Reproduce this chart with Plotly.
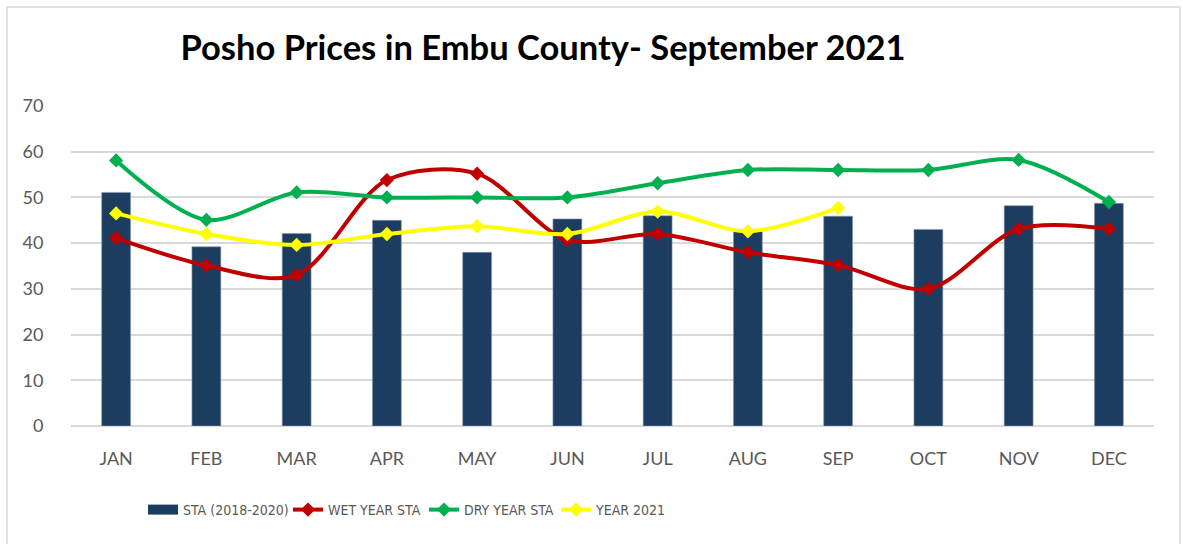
import plotly.graph_objects as go

months = ["JAN", "FEB", "MAR", "APR", "MAY", "JUN", "JUL", "AUG", "SEP", "OCT", "NOV", "DEC"]
sta = [51.1, 39.2, 42.1, 45.0, 38.0, 45.3, 46.0, 43.0, 45.9, 43.0, 48.2, 48.7]
wet_year = [41.1, 35.1, 33.0, 53.8, 55.2, 40.7, 42.0, 38.0, 35.2, 30.0, 43.1, 43.1]
dry_year = [58.1, 45.1, 51.1, 50.0, 50.0, 50.0, 53.1, 56.0, 56.0, 56.0, 58.2, 49.0]
year_2021 = [46.5, 42.0, 39.6, 42.0, 43.7, 42.0, 46.9, 42.6, 47.7]
y_ticks = [0, 10, 20, 30, 40, 50, 60, 70]

FONT = "Lato"
LEGFONT = "Liberation Sans Narrow, DejaVu Sans Condensed, sans-serif"
BAR_COLOR = "#1C3D5F"
fig = go.Figure()
fig.add_trace(go.Bar(x=months, y=sta, name="STA (2018-2020)", showlegend=False,
                     marker=dict(color=BAR_COLOR, line=dict(color="#8A9BB0", width=0.6)), width=0.32))
# legend entry for the bars (wide rectangle swatch as in the original)
fig.add_trace(go.Scatter(x=[months[0]], y=[None], name="STA (2018-2020)", mode="lines",
                         line=dict(color=BAR_COLOR, width=11), legend="legend", hoverinfo="skip"))

def line(y, name, color, leg):
    fig.add_trace(go.Scatter(x=months[:len(y)], y=y, name=name, mode="lines+markers", legend=leg,
                             line=dict(color=color, width=4, shape="spline", smoothing=0.9),
                             marker=dict(symbol="diamond", size=11, color=color)))

line(wet_year, "WET YEAR STA", "#C00000", "legend2")
line(dry_year, "DRY YEAR STA", "#00B050", "legend3")
line(year_2021, "YEAR 2021", "#FFFF00", "legend4")

def leg(px):
    return dict(orientation="h", x=(px - 71) / 1083, xanchor="left", y=-0.2625, yanchor="middle",
                font=dict(family=LEGFONT, size=14, color="#595959"), bgcolor="rgba(0,0,0,0)")

fig.update_layout(
    width=1183, height=544,
    margin=dict(l=71, r=29, t=106, b=118, autoexpand=False),
    paper_bgcolor="white", plot_bgcolor="white",
    font=dict(family=FONT, color="#595959", size=18),
    title=dict(text="<b>Posho Prices in Embu County- September 2021</b>", x=0.459, xanchor="center",
               y=1 - 48 / 544, yanchor="middle", xref="container", yref="container",
               font=dict(family=FONT, size=34.5, color="black")),
    bargap=0.68,
    showlegend=True,
    legend=leg(143), legend2=leg(288), legend3=leg(424), legend4=leg(556),
    xaxis=dict(range=[-0.5, 11.5], showgrid=False, ticks="outside", ticklen=16, tickcolor="rgba(0,0,0,0)",
               showline=False, tickfont=dict(size=18), automargin=False),
    yaxis=dict(range=[0, 70], tickvals=y_ticks, showgrid=True, gridcolor="#D9D9D9", gridwidth=1.5,
               zeroline=True, zerolinecolor="#D9D9D9", zerolinewidth=1.5, automargin=False,
               ticks="outside", ticklen=23, tickcolor="rgba(0,0,0,0)", tickfont=dict(size=18)),
    shapes=[dict(type="rect", xref="paper", yref="paper", x0=-0.0591, x1=1.024, y0=-0.5, y1=1.309,
                 line=dict(color="#D9D9D9", width=1.5), fillcolor="rgba(0,0,0,0)", layer="below")],
)
fig.write_html("out.html", config={"displayModeBar": False},
               post_script="document.body.style.margin='0';document.body.style.overflow='hidden';")
